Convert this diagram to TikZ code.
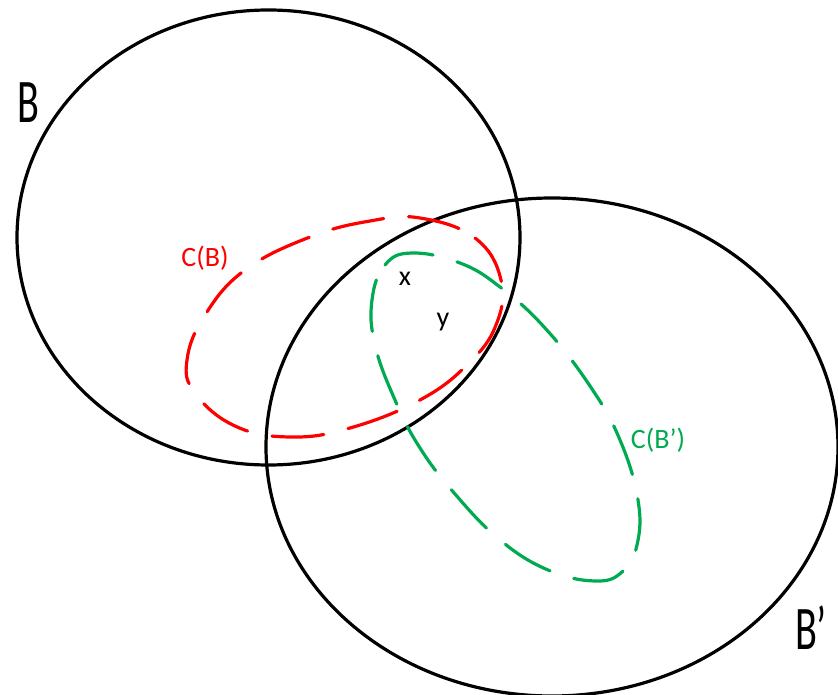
\documentclass[tikz,border=0pt]{standalone}
\usepackage{fontspec}
\setmainfont{Carlito}
\usetikzlibrary{positioning}
\definecolor{covergreen}{RGB}{0,170,80}

\begin{document}
\begin{tikzpicture}[
    x=1pt, y=-1pt,
    set/.style={draw=black, line width=3.2pt},
    cover/.style={draw=#1, line width=3.2pt, dash pattern=on 52pt off 25pt, line cap=round},
    cover/.default=red,
    setname/.style={font=\fontsize{62}{62}\selectfont, inner sep=0pt},
    label/.style={font=\fontsize{28}{28}\selectfont, text=#1, inner sep=0pt},
    label/.default=black
]
\useasboundingbox (0,0) rectangle (838,695);

% Sets
\draw[set] (268.5,237.5) ellipse [x radius=251.5, y radius=227.5];
\draw[set] (552,447) ellipse [x radius=286, y radius=249];

% C(B) and C(B')
\draw[cover=red] plot[smooth cycle, tension=0.7] coordinates {
    (420,218) (475,238) (501,280) (496,325) (468,364) (420,400)
    (350,428) (290,437) (235,426) (195,393) (187,360) (205,315)
    (245,270) (310,237) (370,221)};
\draw[cover=covergreen] plot[smooth cycle, tension=0.7] coordinates {
    (372,300) (385,265) (412,253) (460,263) (500,287) (545,328)
    (590,386) (620,440) (638,500) (637,545) (622,572) (595,581)
    (548,570) (500,540) (455,494) (420,448) (395,400) (375,345)};

% Labels
\node[setname] (b) at (28,103) {\scalebox{0.65}[1]{B}};
\node[setname] (bp) at (811,628) {\scalebox{0.65}[1]{B’}};
\node[label=red] (cb) at (205,258) {C(B)};
\node[label=covergreen] (cbp) at (658,440) {C(B’)};
\node[label] (x) at (405,279) {x};
\node[label] (y) at (443,322) {y};

\end{tikzpicture}
\end{document}
